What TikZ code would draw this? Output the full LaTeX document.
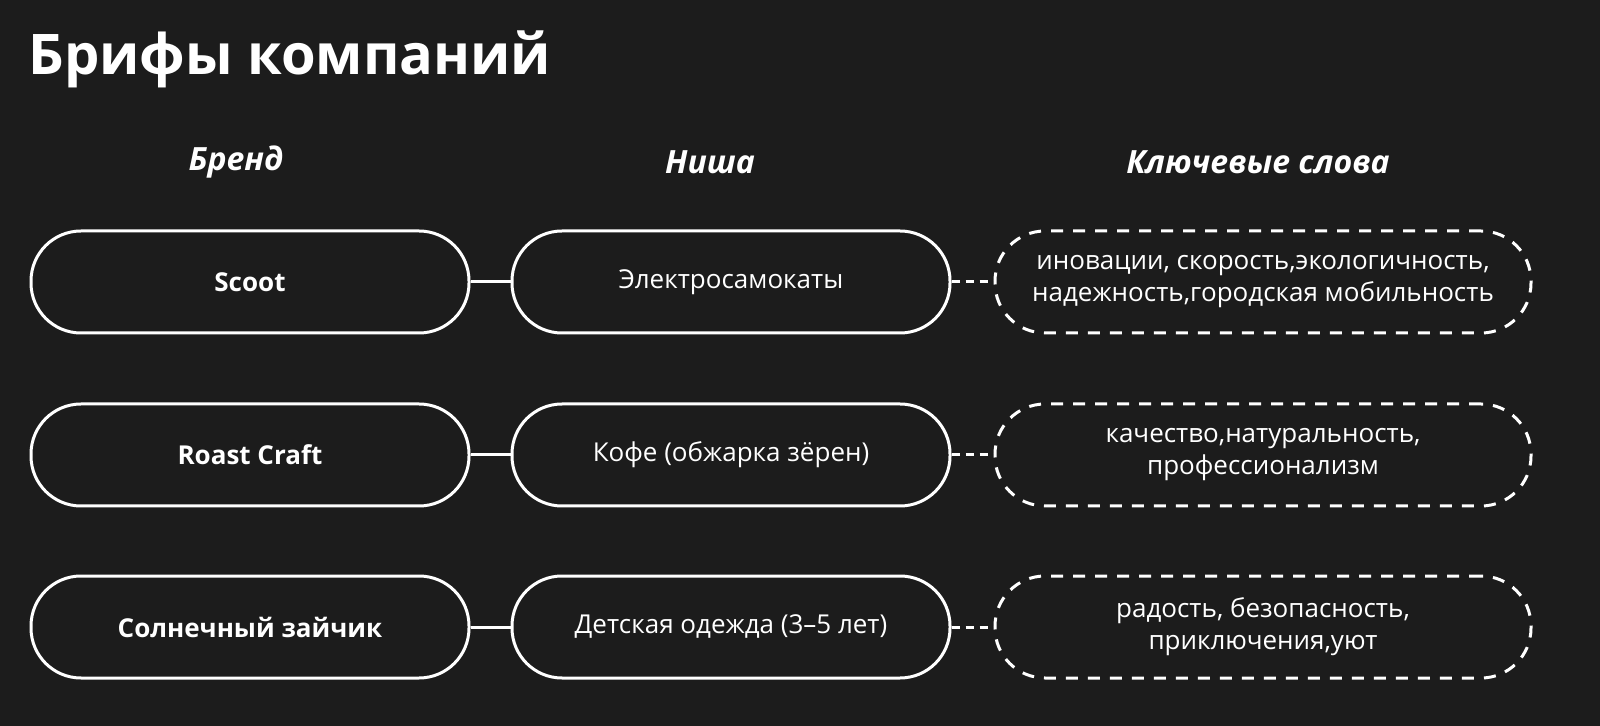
\documentclass[tikz,border=0pt]{standalone}
\usepackage{fontspec}
\setmainfont{Open Sans}
\usetikzlibrary{positioning}
\definecolor{bg}{HTML}{1C1C1C}
\tikzset{
  pill/.style={draw=white, line width=1.5pt, rounded corners=25pt, minimum width=219pt,
    minimum height=51pt, text=white, font=\fontsize{13}{16}\selectfont, align=center},
  keys/.style={pill, dash pattern=on 6pt off 5pt, minimum width=268pt},
  head/.style={text=white, font=\fontsize{16}{19}\selectfont\bfseries\itshape},
  link/.style={draw=white, line width=1.5pt}
}
\begin{document}
\begin{tikzpicture}[x=0.5pt, y=-0.5pt]
\useasboundingbox (0,0) rectangle (1600,726);
\fill[bg] (0,0) rectangle (1600,726);

\node[anchor=base west, text=white, inner sep=0pt, font=\fontsize{28}{32}\selectfont\bfseries] (title) at (28,75) {Брифы компаний};

\node[head] (hbrand) at (236,162) {Бренд};
\node[head] (hniche) at (710,162) {Ниша};
\node[head] (hkeys) at (1258,162) {Ключевые слова};

% row 1
\node[pill, font=\fontsize{13}{16}\selectfont\bfseries] (brand1) at (250,282) {Scoot};
\node[pill] (niche1) at (731,282) {Электросамокаты};
\node[keys] (keys1) at (1263,282) {иновации, скорость,экологичность,\\надежность,городская мобильность};
% row 2
\node[pill, font=\fontsize{13}{16}\selectfont\bfseries] (brand2) at (250,455) {Roast Craft};
\node[pill] (niche2) at (731,455) {Кофе (обжарка зёрен)};
\node[keys] (keys2) at (1263,455) {качество,натуральность,\\профессионализм};
% row 3
\node[pill, font=\fontsize{13}{16}\selectfont\bfseries] (brand3) at (250,627) {Солнечный зайчик};
\node[pill] (niche3) at (731,627) {Детская одежда (3–5 лет)};
\node[keys] (keys3) at (1263,627) {радость, безопасность,\\приключения,уют};

\foreach \i in {1,2,3} {
  \draw[link] (brand\i) -- (niche\i);
  \draw[link, dash pattern=on 4pt off 3pt] (niche\i) -- (keys\i);
}
\end{tikzpicture}
\end{document}
